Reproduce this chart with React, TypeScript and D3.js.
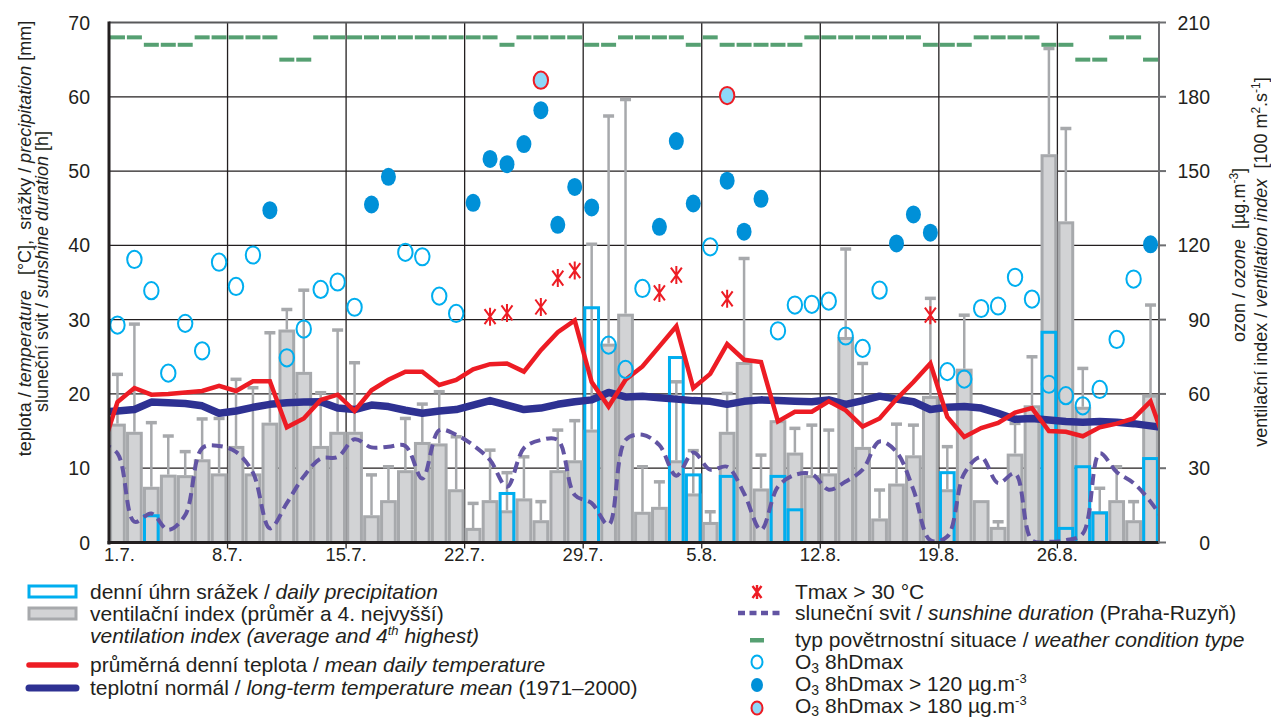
import React from "react";
import * as d3 from "d3";

// day index 0 = 1.7., 61 = 31.8.
const tickLabels = ["1.7.", "8.7.", "15.7.", "22.7.", "29.7.", "5.8.", "12.8.", "19.8.", "26.8."];

// daily precipitation [mm] (0 = none)
const precipitation = [
  0, 0, 3.6, 0, 0, 0, 0,
  0, 0, 0, 0, 0, 0, 0,
  0, 0, 0, 0, 0, 0, 0,
  0, 0, 6.6, 0, 0, 0, 0,
  31.6, 0, 0, 0, 0, 24.9, 9.1,
  0, 8.9, 0, 0, 8.9, 4.4, 0,
  0, 0, 0, 0, 0, 0, 0,
  9.4, 0, 0, 0, 0, 0, 28.3,
  1.9, 10.2, 4.0, 0, 0, 11.3,
];

// ventilation index [100 m2/s], daily average and 4th highest
const ventAvg = [
  47.4, 44.1, 21.9, 26.8, 26.6, 33.0, 27.3,
  38.4, 27.3, 47.8, 85.4, 68.3, 38.4, 44.1,
  44.1, 10.4, 16.5, 28.6, 40.0, 39.4, 20.9,
  5.3, 16.5, 12.4, 17.2, 8.4, 28.6, 32.6,
  45.0, 79.7, 91.8, 11.8, 13.8, 32.6, 19.2,
  7.7, 44.1, 72.3, 21.2, 48.8, 35.7, 26.6,
  27.3, 82.4, 38.0, 9.1, 23.2, 34.6, 58.6,
  20.9, 69.6, 16.5, 5.7, 35.3, 54.8, 156.2,
  129.1, 54.2, 11.8, 16.5, 8.4, 59.1,
];
const ventHigh = [
  67.9, 88.2, 48.4, 43.0, 36.7, 49.9, 50.1,
  65.9, 62.5, 84.7, 94.1, 101.9, 60.5, 85.8,
  72.6, 27.3, 30.6, 50.1, 55.9, 60.9, 42.7,
  15.8, 37.3, 28.2, 34.6, 16.5, 45.4, 49.2,
  120.4, 172.2, 178.9, 30.6, 24.5, 64.9, 37.1,
  12.4, 60.2, 114.7, 35.3, null, 46.1, 47.4,
  45.4, 118.5, 72.3, 21.2, 47.8, 47.4, 98.6,
  38.7, 91.8, null, 8.4, 48.1, 75.0, 199.5,
  167.2, 70.3, 21.9, 30.6, 16.5, 95.9,
];

// lines: 30.6. .. 1.9. (one extra day on each side, clipped)
const tempMean = [
  11.9,
  18.9, 20.8, 19.9, 20.0, 20.2, 20.4, 21.1,
  20.4, 21.7, 21.7, 15.5, 16.7, 19.2, 19.9,
  17.7, 20.5, 21.9, 23.0, 23.0, 21.2, 21.9,
  23.3, 24.0, 24.1, 23.0, 25.9, 28.3, 29.9,
  21.6, 18.3, 21.9, 23.7, 26.4, 29.1, 20.8,
  22.7, 26.7, 24.6, 24.3, 16.3, 17.6, 17.6,
  19.0, 17.8, 15.6, 16.7, 19.3, 21.6, 24.1,
  16.9, 14.2, 15.4, 16.1, 17.5, 18.1, 15.0,
  14.9, 14.3, 15.5, 16.0, 16.7, 19.0,
  12.6,
];
const tempNormal = [
  17.6,
  17.7, 17.9, 18.9, 18.8, 18.7, 18.4, 17.4,
  17.7, 18.2, 18.6, 18.8, 18.9, 18.95, 18.1,
  17.9, 18.5, 18.3, 17.8, 17.4, 17.7, 17.9,
  18.5, 19.1, 18.5, 17.9, 18.1, 18.6, 18.95,
  19.2, 20.2, 19.6, 19.7, 19.5, 19.3, 19.1,
  19.0, 18.6, 19.0, 19.2, 19.1, 19.0, 18.95,
  19.2, 18.6, 19.1, 19.7, 19.3, 18.95, 17.9,
  18.2, 18.3, 18.1, 17.4, 16.6, 16.7, 16.5,
  16.3, 16.2, 16.3, 16.2, 16.0, 15.7,
  15.4,
];
const sunshine = [
  13.4,
  12.0, 2.8, 3.9, 1.7, 3.7, 12.7, 13.0,
  12.2, 9.4, 1.9, 5.3, 8.9, 11.3, 11.5,
  13.9, 12.8, 12.9, 13.0, 8.6, 15.1, 14.5,
  13.1, 11.1, 7.5, 12.7, 13.8, 13.8, 6.4,
  5.3, 2.4, 13.8, 14.5, 13.1, 9.0, 12.1,
  9.8, 10.2, 6.6, 1.7, 7.5, 9.1, 9.2,
  7.1, 8.2, 9.8, 13.6, 12.2, 7.1, 0.3,
  0.8, 9.3, 11.5, 8.0, 9.3, 0.3, 0.1,
  0.3, 1.2, 12.0, 9.5, 8.0, 5.5,
  2.2,
];

// weather condition type (position in the top band)
const weatherType = [
  68, 68, 67, 67, 67, 68, 68,
  68, 68, 68, 65, 65, 68, 68,
  68, 68, 68, 68, 68, 68, 68,
  68, 68, 67, 68, 68, 68, 68,
  67, 67, 68, 68, 68, 68, 67,
  68, 67, 67, 67, 67, 67, 68,
  68, 68, 68, 68, 68, 68, 67,
  67, 67, 68, 68, 68, 68, 67,
  67, 65, 65, 68, 68, 65,
];

// O3 8hDmax [ug/m3]
const ozone = [
  87.8, 114.3, 101.7, 68.4, 88.5, 77.4, 113.2,
  103.4, 116.1, 134.2, 74.6, 86.2, 102.2, 105.2,
  95.0, 136.5, 147.7, 117.2, 115.4, 99.5, 92.5,
  137.2, 154.9, 152.8, 160.9, 174.6, 128.3, 143.6,
  135.3, 79.7, 69.9, 102.6, 127.5, 162.1, 136.9,
  119.4, 146.1, 125.5, 138.8, 85.5, 95.9, 96.2,
  97.5, 83.4, 78.4, 101.9, 120.8, 132.5, 125.1,
  69.0, 66.0, 94.5, 95.5, 107.1, 98.3, 63.9,
  59.3, 55.2, 61.8, 82.0, 106.4, 120.4,
];
const ozoneHighDays = [25, 36];
const ozoneHighValues = [186.7, 180.5];

// Tmax > 30 °C
const tmaxDays = [22, 23, 25, 26, 27, 32, 33, 36, 48];
const tmaxValues = [30.4, 30.9, 31.7, 35.6, 36.6, 33.6, 36.0, 32.8, 30.6];

const FONT = "'Liberation Sans', Arial, Helvetica, sans-serif";
const TXT = "#231f20";
const RED = "#ed1c24";
const NAVY = "#2e3192";
const PURPLE = "#6254a3";
const GREEN = "#56a072";
const CYAN = "#00aeef";
const O3BLUE = "#0090d8";
const BAR_FILL = "#d2d3d5";
const BAR_LINE = "#a7a9ac";

const L = 109, R = 1159, T = 22.5, B = 542.5;

export default function App() {
  const x = d3.scaleLinear().domain([0, 62]).range([L, R]);
  const yL = d3.scaleLinear().domain([0, 70]).range([B, T]);
  const yR = d3.scaleLinear().domain([0, 210]).range([B, T]);
  const cx = (i: number) => x(i + 0.5);
  const bw = x(1) - x(0);

  const lineL = d3
    .line<number>()
    .x((_, j) => cx(j - 1))
    .y((v) => yL(v));
  const sunLine = d3
    .line<number>()
    .x((_, j) => cx(j - 1))
    .y((v) => yL(v))
    .curve(d3.curveCatmullRom.alpha(0.5));

  const star = "M-5.5,-7.5L5.5,7.5M5.5,-7.5L-5.5,7.5M0,-9L0,9";

  const iconX = 29;
  const iconW = 47;
  const textX = 90;
  const legR = 757;
  const textR = 795;

  return (
    <svg width={1271} height={720} style={{ display: "block", position: "absolute", left: 0, top: 0 }} fontFamily={FONT}>
      <rect width={1271} height={720} fill="#fff" />
      <defs>
        <clipPath id="plot">
          <rect x={L} y={T} width={R - L} height={B - T} />
        </clipPath>
      </defs>

      {/* grid */}
      {d3.range(10, 70, 10).map((v) => (
        <line key={"h" + v} x1={L} x2={R} y1={yL(v)} y2={yL(v)} stroke="#231f20" strokeWidth={1.3} />
      ))}
      {d3.range(7, 62, 7).map((d) => (
        <line key={"v" + d} x1={x(d)} x2={x(d)} y1={T} y2={B + 6} stroke="#231f20" strokeWidth={1.3} />
      ))}
      <line x1={L} x2={R} y1={T} y2={T} stroke="#58595b" strokeWidth={2} />

      <g clipPath="url(#plot)">
        {/* ventilation index bars */}
        {ventAvg.map((v, i) => (
          <rect key={"b" + i} x={x(i) + 1.6} width={bw - 3.2} y={yR(v)} height={B - yR(v)} fill={BAR_FILL} stroke={BAR_LINE} strokeWidth={3} />
        ))}
        {ventHigh.map((h, i) =>
          h == null ? null : (
            <g key={"w" + i} stroke={BAR_LINE}>
              <line x1={cx(i)} x2={cx(i)} y1={yR(ventAvg[i]) - 1.5} y2={yR(h)} strokeWidth={2.5} />
              <line x1={cx(i) - 5.5} x2={cx(i) + 5.5} y1={yR(h)} y2={yR(h)} strokeWidth={3.5} />
            </g>
          )
        )}
        {/* precipitation */}
        {precipitation.map((p, i) =>
          p > 0 ? (
            <rect key={"p" + i} x={x(i) + 1.6} width={bw - 3.2} y={yL(p)} height={B - yL(p)} fill="none" stroke={CYAN} strokeWidth={3} />
          ) : null
        )}
        {/* lines */}
        <path d={sunLine(sunshine) ?? ""} fill="none" stroke={PURPLE} strokeWidth={4} strokeDasharray="11 6" />
        <path d={lineL(tempNormal) ?? ""} fill="none" stroke={NAVY} strokeWidth={7.5} strokeLinejoin="round" />
        <path d={lineL(tempMean) ?? ""} fill="none" stroke={RED} strokeWidth={4.5} />
      </g>

      {/* weather type */}
      {weatherType.map((v, i) => (
        <rect key={"g" + i} x={cx(i) - 7.5} y={yL(v) - 2} width={15} height={4} fill={GREEN} />
      ))}

      {/* ozone */}
      {ozone.map((v, i) =>
        v > 120 ? (
          <ellipse key={"o" + i} cx={cx(i)} cy={yR(v)} rx={7.5} ry={9} fill={O3BLUE} />
        ) : (
          <ellipse key={"o" + i} cx={cx(i)} cy={yR(v)} rx={7.2} ry={8.6} fill="none" stroke={CYAN} strokeWidth={2} />
        )
      )}
      {ozoneHighDays.map((d, k) => (
        <ellipse key={"oh" + d} cx={cx(d)} cy={yR(ozoneHighValues[k])} rx={7.2} ry={8.6} fill="#8dd8f8" stroke={RED} strokeWidth={2} />
      ))}

      {/* Tmax */}
      {tmaxDays.map((d, k) => (
        <path key={"t" + d} transform={`translate(${cx(d)},${yL(tmaxValues[k])})`} d={star} stroke={RED} strokeWidth={2} fill="none" />
      ))}

      {/* axes */}
      <line x1={L} x2={L} y1={T - 1} y2={B + 2} stroke="#231f20" strokeWidth={3} />
      <line x1={L - 1.5} x2={R} y1={B} y2={B} stroke="#231f20" strokeWidth={3} />
      <line x1={R} x2={R} y1={T - 1} y2={B + 1} stroke="#6d6e71" strokeWidth={2} />
      {d3.range(0, 211, 30).map((v) => (
        <line key={"rt" + v} x1={R} x2={R + 7} y1={yR(v)} y2={yR(v)} stroke="#6d6e71" strokeWidth={2} />
      ))}

      {/* tick labels */}
      <g fontSize={19.5} fill={TXT}>
        {d3.range(0, 71, 10).map((v) => (
          <text key={"yl" + v} x={90} y={yL(v)} dy="0.36em" textAnchor="end">{v}</text>
        ))}
        {d3.range(0, 211, 30).map((v) => (
          <text key={"yr" + v} x={1210} y={yR(v)} dy="0.36em" textAnchor="end">{v}</text>
        ))}
      </g>
      <g fontSize={18.5} fill={TXT}>
        {tickLabels.map((t, k) => (
          <text key={t} x={k === 0 ? x(0) - 5 : x(k * 7)} y={561} textAnchor={k === 0 ? "start" : "middle"}>{t}</text>
        ))}
      </g>

      {/* axis titles */}
      <g fontSize={18} fill={TXT} xmlSpace="preserve" style={{ whiteSpace: "pre" }}>
        <text transform="translate(31,238.5) rotate(-90)" textAnchor="middle" xmlSpace="preserve">
          {"teplota / "}<tspan fontStyle="italic">temperature</tspan>{"   [°C],  srážky / "}<tspan fontStyle="italic">precipitation</tspan>{" [mm]"}
        </text>
        <text transform="translate(48,271.5) rotate(-90)" textAnchor="middle">
          {"sluneční svit / "}<tspan fontStyle="italic">sunshine duration</tspan>{" [h]"}
        </text>
        <text transform="translate(1245,255) rotate(-90)" textAnchor="middle" xmlSpace="preserve">
          {"ozon / "}<tspan fontStyle="italic">ozone</tspan>{"  [µg.m"}<tspan fontSize={12} dy={-7}>-3</tspan><tspan dy={7}>]</tspan>
        </text>
        <text transform="translate(1267,262) rotate(-90)" textAnchor="middle" xmlSpace="preserve">
          {"ventilační index / "}<tspan fontStyle="italic">ventilation index</tspan>{"  [100 m"}<tspan fontSize={12} dy={-7}>2</tspan><tspan dy={7}>.s</tspan><tspan fontSize={12} dy={-7}>-1</tspan><tspan dy={7}>]</tspan>
        </text>
      </g>

      {/* legend left */}
      <g fontSize={21} fill={TXT}>
        <rect x={iconX} y={586} width={iconW} height={11} fill="#fff" stroke={CYAN} strokeWidth={3} />
        <text x={textX} y={599}>denní úhrn srážek / <tspan fontStyle="italic">daily precipitation</tspan></text>
        <rect x={iconX} y={608} width={iconW} height={11} fill={BAR_FILL} stroke={BAR_LINE} strokeWidth={3} />
        <text x={textX} y={621}>ventilační index (průměr a 4. nejvyšší)</text>
        <text x={textX} y={643} fontStyle="italic">
          ventilation index (average and 4<tspan fontSize={13} dy={-8}>th</tspan><tspan dy={8}> highest)</tspan>
        </text>
        <line x1={iconX} x2={iconX + iconW} y1={665} y2={665} stroke={RED} strokeWidth={5.5} strokeLinecap="round" />
        <text x={textX} y={672}>průměrná denní teplota / <tspan fontStyle="italic">mean daily temperature</tspan></text>
        <line x1={iconX} x2={iconX + iconW} y1={688} y2={688} stroke={NAVY} strokeWidth={7} strokeLinecap="round" />
        <text x={textX} y={695}>teplotní normál / <tspan fontStyle="italic">long-term temperature mean</tspan> (1971–2000)</text>
      </g>

      {/* legend right */}
      <g fontSize={21} fill={TXT}>
        <path transform={`translate(${legR},592)`} d="M-4.5,-6L4.5,6M4.5,-6L-4.5,6M0,-7L0,7" stroke={RED} strokeWidth={2.4} fill="none" />
        <text x={textR} y={599}>Tmax &gt; 30 °C</text>
        <line x1={738} x2={783} y1={613} y2={613} stroke={PURPLE} strokeWidth={4.5} strokeDasharray="7 4.5" />
        <text x={textR} y={620}>sluneční svit / <tspan fontStyle="italic">sunshine duration</tspan> (Praha-Ruzyň)</text>
        <rect x={legR - 7} y={638} width={14} height={4.5} fill={GREEN} />
        <text x={textR} y={647}>typ povětrnostní situace / <tspan fontStyle="italic">weather condition type</tspan></text>
        <ellipse cx={legR} cy={662} rx={5.5} ry={6.5} fill="#fff" stroke={CYAN} strokeWidth={2} />
        <text x={textR} y={669}>O<tspan fontSize={14} dy={4}>3</tspan><tspan dy={-4}> 8hDmax</tspan></text>
        <ellipse cx={legR} cy={685} rx={6} ry={7} fill={O3BLUE} />
        <text x={textR} y={691}>O<tspan fontSize={14} dy={4}>3</tspan><tspan dy={-4}> 8hDmax &gt; 120 µg.m</tspan><tspan fontSize={13} dy={-8}>-3</tspan></text>
        <ellipse cx={legR} cy={708} rx={5.5} ry={6.5} fill="#8dd8f8" stroke={RED} strokeWidth={2} />
        <text x={textR} y={713}>O<tspan fontSize={14} dy={3}>3</tspan><tspan dy={-3}> 8hDmax &gt; 180 µg.m</tspan><tspan fontSize={13} dy={-8}>-3</tspan></text>
      </g>
    </svg>
  );
}
